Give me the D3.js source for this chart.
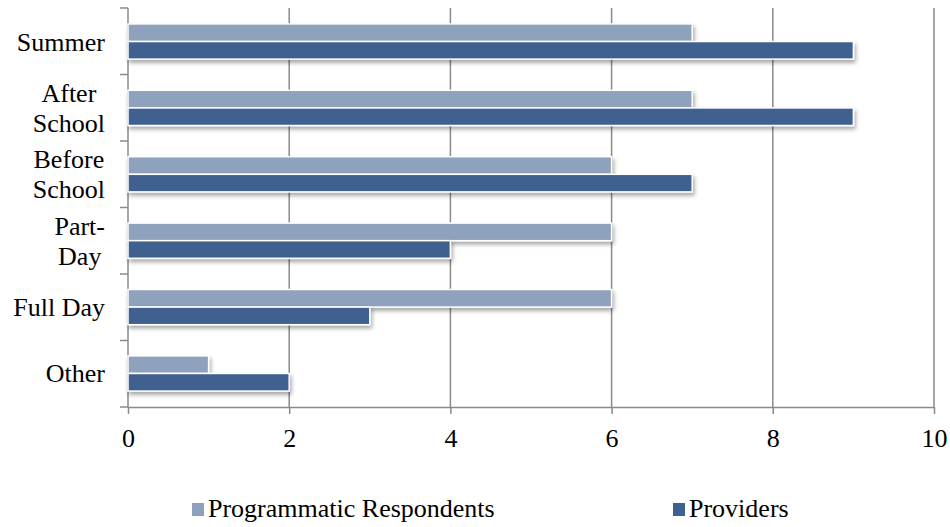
<!DOCTYPE html>
<html>
<head>
<meta charset="utf-8">
<script src="https://cdn.jsdelivr.net/npm/d3@7"></script>
<style>
	body { margin: 0; background: #fff; }
</style>
</head>
<body>
<svg id="chart" width="950" height="527"></svg>
<script>
// data
const categories = ["Summer", "After School", "Before School", "Part-Day", "Full Day", "Other"];
const labelLines = [["Summer"], ["After", "School"], ["Before", "School"], ["Part-", "Day"], ["Full Day"], ["Other"]];
const seriesNames = ["Programmatic Respondents", "Providers"];
const respondents = [7, 7, 6, 6, 6, 1];
const providers = [9, 9, 7, 4, 3, 2];
const xTicks = [0, 2, 4, 6, 8, 10];

const colors = ["#8fa2bd", "#3f6190"];
const gridColor = "#8a8a8a";
const fontFam = "Liberation Serif";
const fontSize = 26;

let svg = d3.select("#chart");

let defs = svg.append("defs");
let shadow = defs.append("filter")
	.attr("id", "shadow")
	.attr("x", "-10%").attr("y", "-50%")
	.attr("width", "120%").attr("height", "250%");
shadow.append("feDropShadow")
	.attr("dx", 1.5).attr("dy", 3)
	.attr("stdDeviation", 2)
	.attr("flood-color", "#000")
	.attr("flood-opacity", 0.35);

let xScale = d3.scaleLinear()
	.domain([0, 10])
	.range([128, 934]);

let yScale = d3.scaleBand()
	.domain(categories)
	.range([8, 407])
	.paddingInner(0.47)
	.paddingOuter(0.24);

let subScale = d3.scaleBand()
	.domain(seriesNames)
	.range([0, yScale.bandwidth()]);

// grid lines
svg.append("g")
	.selectAll("line")
	.data(xTicks.slice(1))
	.join("line")
	.attr("x1", (d) => xScale(d))
	.attr("x2", (d) => xScale(d))
	.attr("y1", 8)
	.attr("y2", 407)
	.attr("stroke", gridColor)
	.attr("stroke-width", 1.5);

// category tick marks on the left
let step = (407 - 8) / categories.length;
let yTickPos = d3.range(categories.length + 1).map((i) => 8 + i * step);

let yAxisG = svg.append("g");
yAxisG.append("line")
	.attr("x1", 128).attr("x2", 128)
	.attr("y1", 8).attr("y2", 407)
	.attr("stroke", gridColor)
	.attr("stroke-width", 1.5);
yAxisG.selectAll("line.tick")
	.data(yTickPos)
	.join("line")
	.classed("tick", true)
	.attr("x1", 120).attr("x2", 128)
	.attr("y1", (d) => d).attr("y2", (d) => d)
	.attr("stroke", gridColor)
	.attr("stroke-width", 1.5);

// bottom axis
let xAxisG = svg.append("g")
	.attr("transform", "translate(0, 407)")
	.call(d3.axisBottom(xScale).tickValues(xTicks).tickSize(7).tickSizeOuter(0).tickPadding(15))
	.attr("font-family", fontFam)
	.attr("font-size", fontSize);
xAxisG.select(".domain").attr("stroke", gridColor).attr("stroke-width", 1.5);
xAxisG.selectAll(".tick line").attr("stroke", gridColor).attr("stroke-width", 1.5);
xAxisG.selectAll(".tick text")
	.attr("font-family", fontFam)
	.attr("font-size", fontSize)
	.attr("fill", "#000");

// bars
let rows = categories.map((c, i) => ({ cat: c, vals: [respondents[i], providers[i]] }));

let barsG = svg.append("g");
rows.forEach((r) => {
	barsG.selectAll(null)
		.data(r.vals.map((v, j) => ({ v: v, s: seriesNames[j], j: j })))
		.join("rect")
		.attr("x", xScale(0))
		.attr("y", (d) => yScale(r.cat) + subScale(d.s))
		.attr("width", (d) => xScale(d.v) - xScale(0))
		.attr("height", subScale.bandwidth())
		.attr("fill", (d) => colors[d.j])
		.attr("stroke", "#fff")
		.attr("stroke-width", 1.5)
		.attr("filter", "url(#shadow)");
});

// category labels: lines centred on each other, block right edge at labelRight
let labelRight = 105;
let lineH = 30;
let labelsG = svg.append("g");
labelLines.forEach((lines, i) => {
	let cy = yScale(categories[i]) + yScale.bandwidth() / 2;
	let t = labelsG.append("text")
		.attr("font-family", fontFam)
		.attr("font-size", fontSize)
		.attr("fill", "#000")
		.attr("text-anchor", "middle")
		.attr("dominant-baseline", "central");
	lines.forEach((ln, k) => {
		t.append("tspan")
			.attr("x", 0)
			.attr("y", cy + (k - (lines.length - 1) / 2) * lineH)
			.text(ln);
	});
	let w = t.node().getBBox().width;
	t.selectAll("tspan").attr("x", labelRight - w / 2);
});

// legend
let legendX = [192, 673];
let legendG = svg.append("g");
seriesNames.forEach((s, i) => {
	legendG.append("rect")
		.attr("x", legendX[i])
		.attr("y", 503)
		.attr("width", 12)
		.attr("height", 13)
		.attr("fill", colors[i]);
	legendG.append("text")
		.attr("x", legendX[i] + 16)
		.attr("y", 517)
		.attr("font-family", fontFam)
		.attr("font-size", fontSize)
		.attr("fill", "#000")
		.text(s);
});
</script>
</body>
</html>
